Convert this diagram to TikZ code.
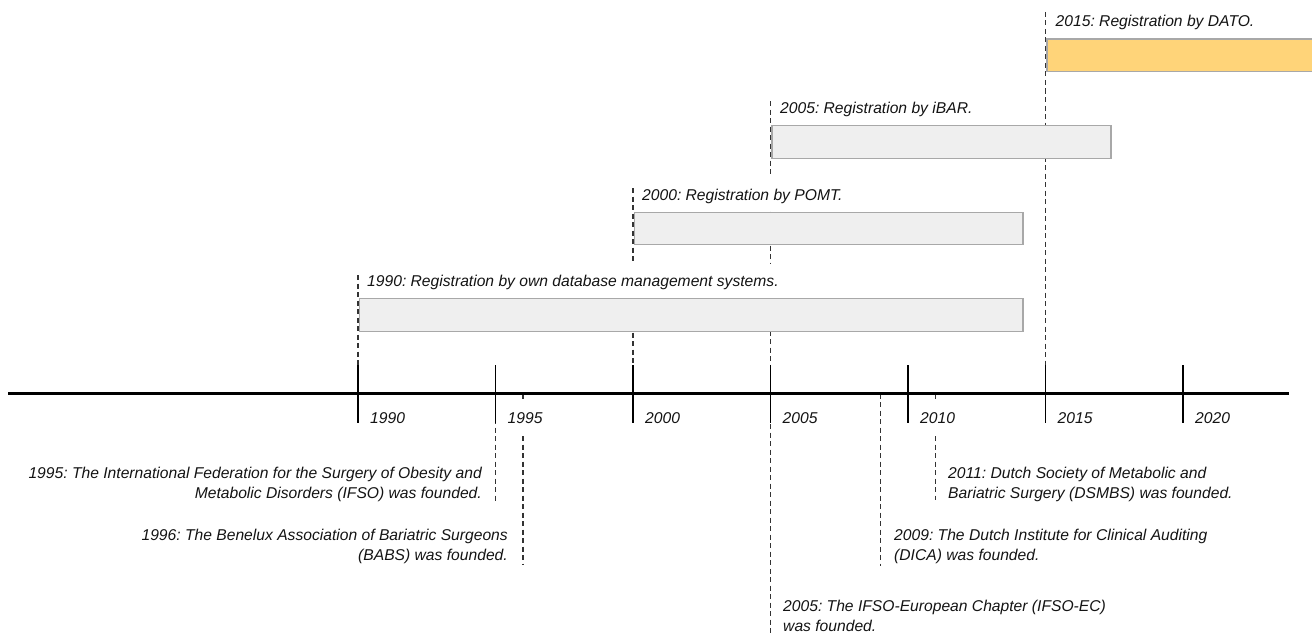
\documentclass[tikz,border=0pt]{standalone}
\usepackage{fontspec}
\setmainfont{Liberation Sans}
\frenchspacing
\definecolor{barline}{HTML}{A8A8A8}
\definecolor{barfill}{HTML}{EFEFEF}
\definecolor{datofill}{HTML}{FFD479}
\definecolor{guidecol}{HTML}{333333}
\begin{document}
\begin{tikzpicture}[x=1pt,y=-1pt,
  lbl/.style={font=\fontsize{15.65}{20}\selectfont\itshape, inner sep=0pt, text=black!92},
  barlbl/.style={lbl, anchor=base west, fill=white, inner xsep=2pt, inner ysep=0pt, text height=23pt, text depth=11pt},
  bar/.style={draw=barline, line width=1.2pt, fill=barfill, anchor=north west, inner sep=0pt, minimum height=32.5pt},
  guide/.style={draw=guidecol, line width=1.1pt, dash pattern=on 5pt off 3.5pt},
  tickmark/.style={draw=black, line width=1.3pt},
  yr/.style={lbl, anchor=base west, fill=white, inner xsep=1pt, inner ysep=0pt, text height=22pt, text depth=10pt}
]
\useasboundingbox (0,0) rectangle (1312,634);
\clip (0,0) rectangle (1312,634);

% axis points
\coordinate (t1990) at (358,393.5);
\coordinate (t1995) at (495.5,393.5);
\coordinate (t1996) at (523,393.5);
\coordinate (t2000) at (633,393.5);
\coordinate (t2005) at (770.5,393.5);
\coordinate (t2009) at (880.5,393.5);
\coordinate (t2011) at (935.5,393.5);
\coordinate (t2015) at (1045.5,393.5);

% guide tops / ends
\coordinate (g1990) at (358,275);
\coordinate (g2000) at (633,188);
\coordinate (g2005) at (770.5,101);
\coordinate (g2005end) at (770.5,634);
\coordinate (g2015) at (1045.5,12);
\coordinate (e1995end) at (495.5,502);
\coordinate (e1996end) at (523,565);
\coordinate (e2009end) at (880.5,566);
\coordinate (e2011end) at (935.5,500);

% guides
\draw[guide] (g2015) -- (t2015);
\draw[guide] (g2005) -- (g2005end);
\draw[guide] (g2000) -- (t2000);
\draw[guide] (g1990) -- (t1990);
\draw[guide] (t1995) -- (e1995end);
\draw[guide] (t1996) -- (e1996end);
\draw[guide] (t2009) -- (e2009end);
\draw[guide] (t2011) -- (e2011end);

% bar labels (white backing hides the guides behind them)
\node[barlbl] (lDATO) at (1053.5,26.8) {2015: Registration by DATO.};
\node[barlbl] (lIBAR) at (778,113.4) {2005: Registration by iBAR.};
\node[barlbl] (lPOMT) at (640,200) {2000: Registration by POMT.};
\node[barlbl] (lOWN) at (365,286.7) {1990: Registration by own database management systems.};

% bars
\node[bar, fill=datofill, minimum width=290pt] (bDATO) at (1046.3,38.5) {};
\node[bar, minimum width=339pt] (bIBAR) at (771.3,125) {};
\node[bar, minimum width=388.5pt] (bPOMT) at (633.8,211.5) {};
\node[bar, minimum width=663.5pt] (bOWN) at (358.8,298) {};

% axis
\coordinate (axL) at (8,393.5);
\coordinate (axR) at (1289,393.5);
\draw[line width=3pt] (axL) -- (axR);
\foreach \i in {0,...,6}{
  \draw[tickmark] (358+137.5*\i,365) -- (358+137.5*\i,423);
}

% year labels
\foreach \i/\y in {0/1990,1/1995,2/2000,3/2005,4/2010,5/2015,6/2020}{
  \node[yr] (y\y) at (369+137.5*\i,423) {\y};
}

% event labels
\node[lbl, align=right, anchor=north east] (eIFSO) at (482,466.9) {1995: The International Federation for the Surgery of Obesity and\\Metabolic Disorders (IFSO) was founded.};
\node[lbl, align=right, anchor=north east] (eBABS) at (508,528.6) {1996: The Benelux Association of Bariatric Surgeons\\(BABS) was founded.};
\node[lbl, align=left, anchor=north west] (eDSMBS) at (948,466.9) {2011: Dutch Society of Metabolic and\\Bariatric Surgery (DSMBS) was founded.};
\node[lbl, align=left, anchor=north west] (eDICA) at (894,528.6) {2009: The Dutch Institute for Clinical Auditing\\(DICA) was founded.};
\node[lbl, align=left, anchor=north west] (eEC) at (783,600.2) {2005: The IFSO-European Chapter (IFSO-EC)\\was founded.};
\end{tikzpicture}
\end{document}
